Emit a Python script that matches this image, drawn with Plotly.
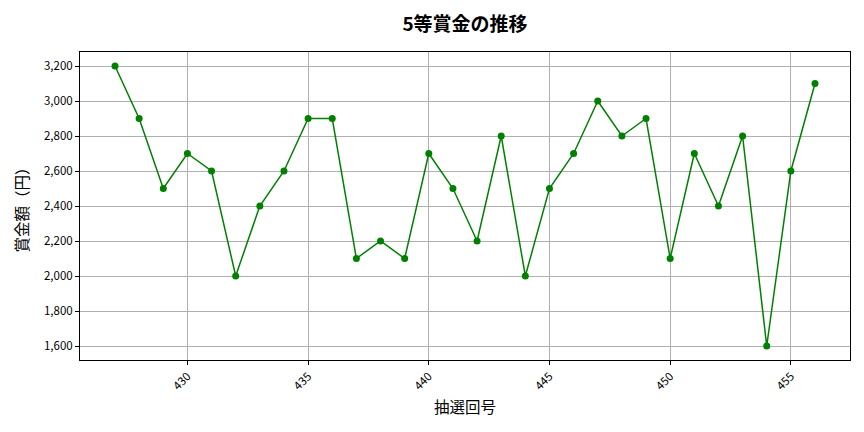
import plotly.graph_objects as go

draw_no = list(range(427, 457))
prize = [3200, 2900, 2500, 2700, 2600, 2000, 2400, 2600, 2900, 2900,
         2100, 2200, 2100, 2700, 2500, 2200, 2800, 2000, 2500, 2700,
         3000, 2800, 2900, 2100, 2700, 2400, 2800, 1600, 2600, 3100]
x_ticks = [430, 435, 440, 445, 450, 455]
y_ticks = [1600, 1800, 2000, 2200, 2400, 2600, 2800, 3000, 3200]

font = "Noto Sans CJK JP"

fig = go.Figure(go.Scatter(
    x=draw_no, y=prize, mode="lines+markers",
    line=dict(color="green", width=1.5),
    marker=dict(color="green", size=7),
))

# matplotlib-like padding around the data
xpad = (max(draw_no) - min(draw_no)) * 0.05
ypad = (max(prize) - min(prize)) * 0.05

# page body adds an 8px offset, margins compensate for it
fig.update_layout(
    width=864, height=432,
    margin=dict(l=72, r=22, t=44, b=80),
    paper_bgcolor="white", plot_bgcolor="white",
    font=dict(family=font, size=11.5, color="black"),
    title=dict(text="<b>5等賞金の推移</b>", xref="paper", x=0.5, xanchor="center",
               y=0.961, yanchor="middle", font=dict(size=19)),
    showlegend=False,
    xaxis=dict(
        range=[min(draw_no) - xpad, max(draw_no) + xpad],
        tickvals=x_ticks, tickangle=-45,
        showgrid=True, gridcolor="#b0b0b0", gridwidth=0.8,
        showline=True, linecolor="black", linewidth=1, mirror=True,
        ticks="outside", ticklen=4, tickcolor="black",
        title=dict(text="抽選回号", font=dict(size=15.5), standoff=10),
        zeroline=False,
    ),
    yaxis=dict(
        range=[min(prize) - ypad, max(prize) + ypad],
        tickvals=y_ticks, tickformat=",",
        showgrid=True, gridcolor="#b0b0b0", gridwidth=0.8,
        showline=True, linecolor="black", linewidth=1, mirror=True,
        ticks="outside", ticklen=4, tickcolor="black",
        title=dict(text="賞金額（円）", font=dict(size=15.5), standoff=11),
        zeroline=False,
    ),
)

fig.write_html("out.html")
